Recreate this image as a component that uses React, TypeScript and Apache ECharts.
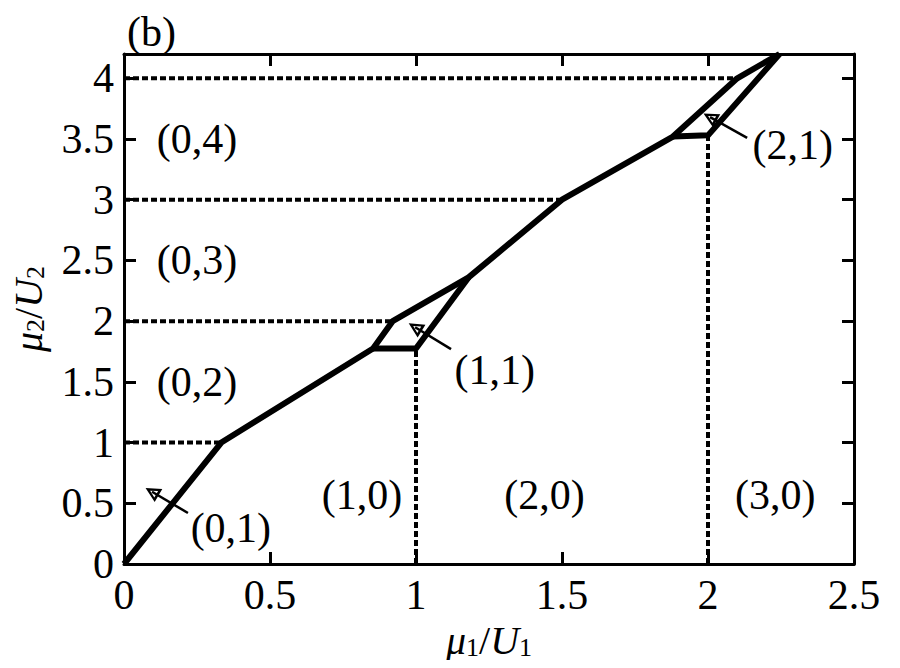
import React, { useEffect, useRef } from "react";
import * as echarts from "echarts";

const FONT = "'Liberation Serif', 'Times New Roman', serif";

// Phase boundary: upper/main path
const mainBoundary: [number, number][] = [
  [0, 0], [1 / 3, 1], [0.853, 1.775], [0.92, 2.0], [1.18, 2.36], [1.5, 3.0], [1.88, 3.52], [2.1, 4.0], [2.245, 4.2],
];
// lower edges of the (1,1) and (2,1) lobes
const lobe11Lower: [number, number][] = [[0.853, 1.775], [1.0, 1.775], [1.18, 2.36]];
const lobe21Lower: [number, number][] = [[1.88, 3.52], [2.0, 3.53], [2.245, 4.2]];

// dotted guide lines
const dottedLines: [number, number][][] = [
  [[0, 1], [1 / 3, 1]],
  [[0, 2], [0.92, 2]],
  [[0, 3], [1.5, 3]],
  [[0, 4], [2.1, 4]],
  [[1, 0], [1, 1.775]],
  [[2, 0], [2, 3.53]],
];

const regionNames = ["(0,4)", "(0,3)", "(0,2)", "(0,1)", "(1,0)", "(2,0)", "(3,0)", "(1,1)", "(2,1)"];
const regionX = [0.25, 0.25, 0.25, 0.366, 0.815, 1.44, 2.23, 1.27, 2.29];
const regionY = [3.5, 2.5, 1.5, 0.3, 0.57, 0.57, 0.57, 1.6, 3.45];

const arrows: [number, number][][] = [
  [[0.219, 0.42], [0.096, 0.595]],
  [[1.12, 1.77], [0.997, 1.95]],
  [[2.134, 3.51], [2.007, 3.68]],
];

const xTicks = { min: 0, max: 2.5, interval: 0.5 };
const yTicks = { min: 0, max: 4.2, interval: 0.5 };

export default function App() {
  const ref = useRef<HTMLDivElement>(null);
  useEffect(() => {
    if (!ref.current) return;
    const chart = echarts.init(ref.current, undefined, { renderer: "svg" });
    const axisLine = { show: true, onZero: false, lineStyle: { color: "#000", width: 3 } };
    const axisTick = { show: true, inside: true, length: 12, lineStyle: { color: "#000", width: 3 } };
    const labelStyle = { color: "#000", fontSize: 42, fontFamily: FONT, margin: 10 };
    const black = "#000";
    const nameRich = () => ({
      rich: {
        i: { fontSize: 40, fontStyle: "italic", fontFamily: FONT, color: black, lineHeight: 40 },
        n: { fontSize: 40, fontFamily: FONT, color: black, lineHeight: 40 },
        s: { fontSize: 26, fontFamily: FONT, color: black, verticalAlign: "bottom", lineHeight: 32 },
      },
    });

    const series: any[] = [];
    dottedLines.forEach((seg) => {
      series.push({
        type: "line",
        data: seg,
        symbol: "none",
        silent: true,
        lineStyle: { color: black, width: 4, type: [6, 3] },
        z: 2,
      });
    });
    [mainBoundary, lobe11Lower, lobe21Lower].forEach((d) => {
      series.push({
        type: "line",
        data: d,
        symbol: "none",
        silent: true,
        lineStyle: { color: black, width: 6, join: "round" },
        z: 3,
      });
    });
    series.push({
      type: "scatter",
      symbolSize: 0,
      silent: true,
      itemStyle: { opacity: 1, color: black },
      data: regionNames.map((n, i) => ({ name: n, value: [regionX[i], regionY[i]] })),
      label: {
        show: true,
        position: "inside",
        formatter: "{b}",
        color: black,
        opacity: 1,
        fontSize: 42,
        fontFamily: FONT,
      },
      z: 4,
    });
    series.push({
      type: "lines",
      coordinateSystem: "cartesian2d",
      silent: true,
      symbol: ["none", "path://M0,0 L8,17 L-8,17 Z M0,6 L-4,14 L4,14 Z"],
      symbolSize: 15,
      lineStyle: { color: black, width: 2.5, opacity: 1 },
      data: arrows.map((c) => ({ coords: c })),
      z: 5,
    });

    chart.setOption({
      animation: false,
      title: {
        text: "(b)",
        left: 122,
        top: 6,
        textStyle: { color: black, fontSize: 42, fontWeight: "normal", fontFamily: FONT },
      },
      grid: { left: 124, right: 46, top: 54, bottom: 104, containLabel: false, outerBoundsMode: "none" },
      xAxis: [
        {
          type: "value",
          ...xTicks,
          position: "bottom",
          axisLine,
          axisTick,
          splitLine: { show: false },
          axisLabel: labelStyle,
          name: "{i|μ}{s|1}{n|/}{i|U}{s|1}",
          nameLocation: "middle",
          nameGap: 50,
          nameTextStyle: nameRich(),
        },
        {
          type: "value",
          ...xTicks,
          position: "top",
          axisLine,
          axisTick,
          splitLine: { show: false },
          axisLabel: { show: false },
        },
      ],
      yAxis: [
        {
          type: "value",
          ...yTicks,
          position: "left",
          axisLine,
          axisTick,
          splitLine: { show: false },
          axisLabel: { ...labelStyle, showMaxLabel: false },
          name: "{i|μ}{s|2}{n|/}{i|U}{s|2}",
          nameLocation: "middle",
          nameRotate: 90,
          nameGap: 76,
          nameTextStyle: nameRich(),
        },
        {
          type: "value",
          ...yTicks,
          position: "right",
          axisLine,
          axisTick,
          splitLine: { show: false },
          axisLabel: { show: false },
        },
      ],
      series,
    });
    return () => chart.dispose();
  }, []);
  return <div ref={ref} style={{ width: 900, height: 668, margin: -8 }} />;
}
